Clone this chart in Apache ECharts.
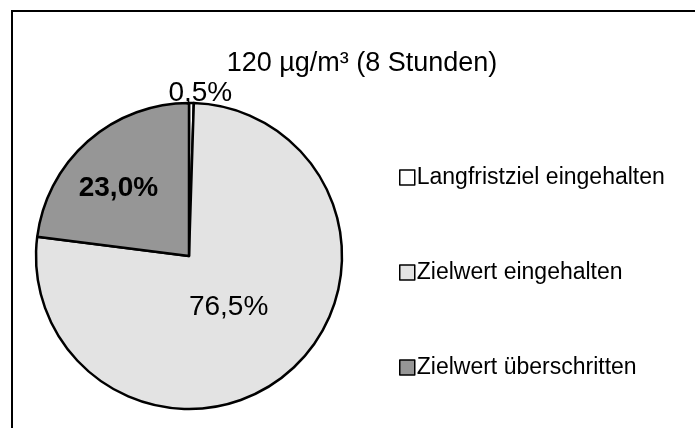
<!DOCTYPE html>
<html>
<head>
<meta charset="utf-8">
<script src="https://cdn.jsdelivr.net/npm/echarts@6/dist/echarts.min.js"></script>
<style>
html,body{margin:0;padding:0;background:#fff;}
#c{width:695px;height:428px;}
</style>
</head>
<body>
<div id="c"></div>
<script>
const titleText = '120 µg/m³ (8 Stunden)';
const categories = ['Langfristziel eingehalten', 'Zielwert eingehalten', 'Zielwert überschritten'];
const values = [0.5, 76.5, 23.0];
const colors = ['#ffffff', '#e3e3e3', '#969696'];
const labelPos = ['outside', 'inside', 'inside'];
const labelBold = [false, false, true];
const labelShift = [[-28, -10], [-12, -9], [-18, -8]];

const FONT = '"Liberation Sans", Arial, sans-serif';
const chart = echarts.init(document.getElementById('c'), null, {renderer: 'canvas'});

const data = categories.map((name, i) => ({
  name: name,
  value: values[i],
  itemStyle: {color: colors[i]},
  label: {
    position: labelPos[i],
    fontWeight: labelBold[i] ? 'bold' : 'normal'
  },
  labelLine: {show: false}
}));

chart.setOption({
  animation: false,
  backgroundColor: '#ffffff',
  graphic: [{
    type: 'rect',
    shape: {x: 12, y: 11, width: 720, height: 440},
    style: {fill: 'none', stroke: '#000', lineWidth: 2},
    silent: true
  }],
  title: {
    text: titleText,
    left: 357,
    top: 45,
    textAlign: 'center',
    textStyle: {fontFamily: FONT, fontSize: 27, fontWeight: 'normal', color: '#000'}
  },
  legend: {
    orient: 'vertical',
    left: 394,
    top: 161,
    itemWidth: 15,
    itemHeight: 15,
    itemGap: 72,
    icon: 'rect',
    itemStyle: {borderColor: '#000', borderWidth: 1.5},
    textStyle: {fontFamily: FONT, fontSize: 23, color: '#000', padding: [0, 0, 0, -3]},
    data: categories
  },
  series: [{
    type: 'pie',
    center: [189, 256],
    radius: 153,
    startAngle: 90,
    clockwise: true,
    avoidLabelOverlap: false,
    itemStyle: {borderColor: '#000', borderWidth: 2.5},
    label: {
      show: true,
      fontFamily: FONT,
      fontSize: 28,
      color: '#000',
      formatter: p => p.value.toFixed(1).replace('.', ',') + '%'
    },
    labelLine: {show: false, length: 0, length2: 0},
    labelLayout: p => ({dx: labelShift[p.dataIndex][0], dy: labelShift[p.dataIndex][1]}),
    emphasis: {disabled: true},
    data: data
  }]
});
</script>
</body>
</html>
